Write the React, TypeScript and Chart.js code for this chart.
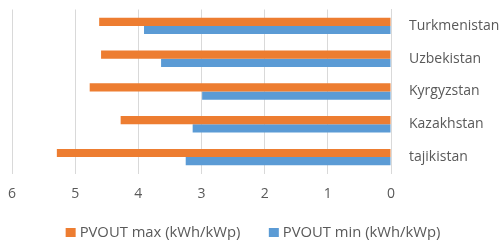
import React, { useEffect, useRef } from "react";
import { Chart, registerables } from "chart.js";

Chart.register(...registerables);

const categories = ["Turkmenistan", "Uzbekistan", "Kyrgyzstan", "Kazakhstan", "tajikistan"];
const pvoutMax = [4.62, 4.59, 4.77, 4.28, 5.29];
const pvoutMin = [3.91, 3.64, 2.99, 3.14, 3.25];
const xTicks = [0, 1, 2, 3, 4, 5, 6];

const FONT = "'Open Sans', sans-serif";

const bottomLegend = {
  id: "bottomLegend",
  afterDraw(chart: any) {
    const ctx = chart.ctx;
    const items = chart.data.datasets.map((d: any) => ({ text: d.label, color: d.backgroundColor }));
    ctx.save();
    ctx.font = `14.8px ${FONT}`;
    const boxW = 10;
    const boxH = 9;
    const gap = 4;
    const itemGap = 28.5;
    const widths = items.map((it: any) => boxW + gap + ctx.measureText(it.text).width);
    const total = widths.reduce((a: number, b: number) => a + b, 0) + itemGap * (items.length - 1);
    let x = 253 - total / 2;
    const cy = 232.5;
    items.forEach((it: any, i: number) => {
      ctx.fillStyle = it.color;
      ctx.fillRect(x, cy - boxH / 2, boxW, boxH);
      ctx.fillStyle = "#595959";
      ctx.textBaseline = "middle";
      ctx.textAlign = "left";
      ctx.fillText(it.text, x + boxW + gap, cy);
      x += widths[i] + itemGap;
    });
    ctx.restore();
  },
};

export default function App() {
  const ref = useRef<HTMLCanvasElement | null>(null);
  useEffect(() => {
    if (!ref.current) return;
    const chart = new Chart(ref.current, {
      type: "bar",
      data: {
        labels: categories,
        datasets: [
          {
            label: "PVOUT max (kWh/kWp)",
            data: pvoutMax,
            backgroundColor: "#ED7D31",
            categoryPercentage: 0.5,
            barPercentage: 1,
          },
          {
            label: "PVOUT min (kWh/kWp)",
            data: pvoutMin,
            backgroundColor: "#5B9BD5",
            categoryPercentage: 0.5,
            barPercentage: 1,
          },
        ],
      },
      options: {
        indexAxis: "y",
        animation: false,
        responsive: false,
        maintainAspectRatio: false,
        layout: { padding: { top: 9.5, left: 12, right: 0, bottom: 42 } },
        plugins: {
          tooltip: { enabled: false },
          legend: { display: false },
        },
        scales: {
          x: {
            reverse: true,
            min: 0,
            max: 6,
            afterBuildTicks: (axis: any) => {
              axis.ticks = xTicks.map((v) => ({ value: v }));
            },
            afterFit: (axis: any) => {
              axis.height = 24.5;
              axis.paddingLeft = 0;
              axis.paddingRight = 0;
            },
            grid: { color: "#d9d9d9", drawTicks: false },
            border: { display: false },
            ticks: {
              padding: 12,
              color: "#595959",
              font: { family: FONT, size: 14 },
            },
          },
          y: {
            position: "right",
            afterFit: (axis: any) => {
              axis.width = 112;
              axis.paddingTop = 0;
              axis.paddingBottom = 0;
            },
            grid: { display: false, drawTicks: false },
            border: { display: true, color: "#d9d9d9" },
            ticks: {
              padding: 18,
              color: "#595959",
              font: { family: FONT, size: 14 },
            },
          },
        },
      },
      plugins: [bottomLegend],
    });
    return () => chart.destroy();
  }, []);
  return (
    <div style={{ position: "absolute", left: 0, top: 0, width: 503, height: 240, background: "#fff" }}>
      <canvas ref={ref} width={503} height={240} style={{ width: 503, height: 240 }} />
    </div>
  );
}
